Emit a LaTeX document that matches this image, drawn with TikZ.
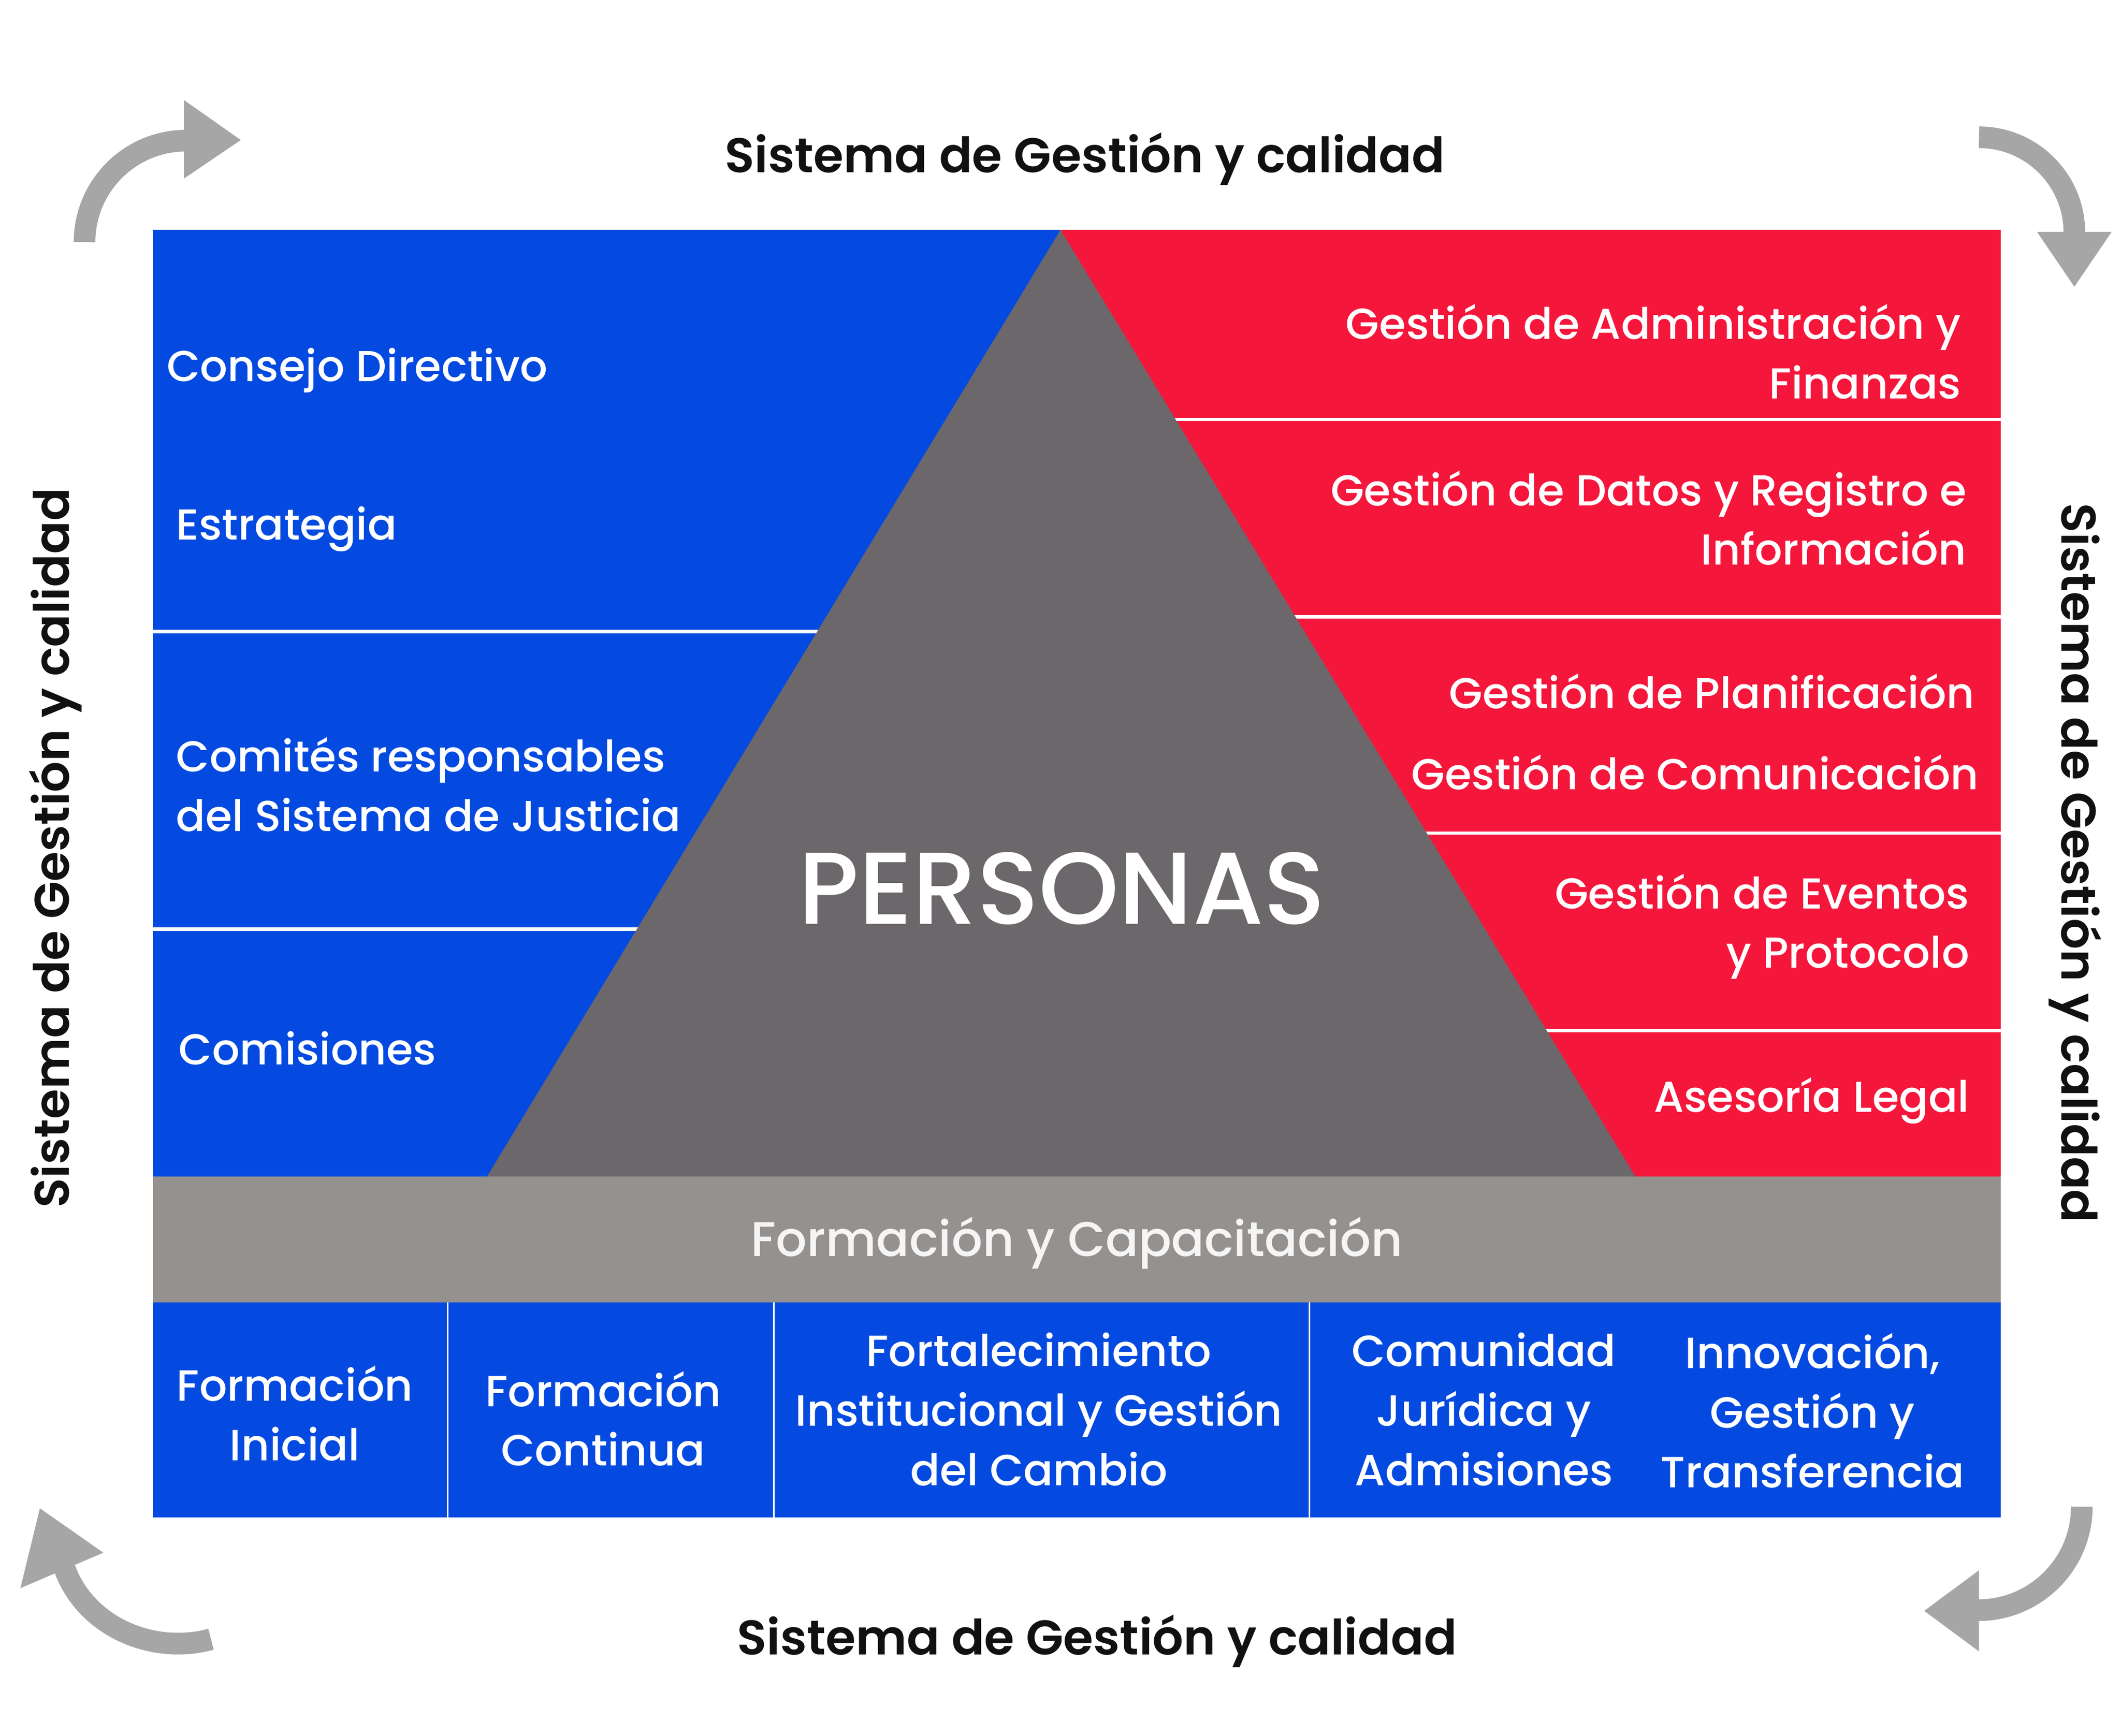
\documentclass[tikz,border=0pt]{standalone}
\usepackage{fontspec}
\setmainfont{Poppins}[UprightFont=* Medium, BoldFont=* SemiBold]
\definecolor{cblue}{HTML}{054AE0}
\definecolor{cred}{HTML}{F5163B}
\definecolor{ctri}{HTML}{6C676B}
\definecolor{cband}{HTML}{95918F}
\definecolor{carrow}{HTML}{A6A6A6}
\definecolor{ctitle}{HTML}{111111}
\tikzset{
  lab/.style={text=white, inner sep=0pt, font=\fontsize{32}{44}\selectfont},
  lableft/.style={lab, anchor=west, align=left},
  labright/.style={lab, anchor=east, align=right},
  labcell/.style={lab, anchor=center, align=center, font=\fontsize{32.3}{44}\selectfont},
  titlelab/.style={text=ctitle, inner sep=0pt, font=\bfseries\fontsize{36}{40}\selectfont},
  sepline/.style={white, line width=2.5pt},
  cellline/.style={white, line width=1pt},
  arrowline/.style={carrow, line width=16pt},
  arrowhead/.style={fill=carrow, draw=none},
}
\begin{document}
\begin{tikzpicture}[x=1pt,y=-1pt]
\useasboundingbox (0,0) rectangle (1568,1283.2);
\fill[white] (0,0) rectangle (1568,1283.2);
% main coloured areas
\fill[cblue] (113,170) rectangle (784,870);
\fill[cred] (784,170) rectangle (1479,870);
% separators
\draw[sepline] (113,467) -- (784,467);
\draw[sepline] (113,687) -- (784,687);
\draw[sepline] (784,310) -- (1479,310);
\draw[sepline] (784,456) -- (1479,456);
\draw[sepline] (784,616) -- (1479,616);
\draw[sepline] (784,762) -- (1479,762);
% triangle
\fill[ctri] (784,170) -- (1209,870) -- (360,870) -- cycle;
% band and bottom row
\fill[cband] (113,870) rectangle (1479,963);
\fill[cblue] (113,963) rectangle (1479,1122);
\draw[cellline] (331,963) -- (331,1122);
\draw[cellline] (572,963) -- (572,1122);
\draw[cellline] (968,963) -- (968,1122);

% left labels
\node[lableft] (consejo) at (123,274) {Consejo Directivo};
\node[lableft] (estrategia) at (130,391) {Estrategia};
\node[lableft] (comites) at (130,580) {Comités responsables\\del Sistema de Justicia};
\node[lableft] (comisiones) at (132,775) {Comisiones};
% right labels
\node[labright] (admin) at (1450,260) {Gestión de Administración y\\Finanzas};
\node[labright] (datos) at (1454,383) {Gestión de Datos y Registro e\\Información};
\node[labright] (planif) at (1460,511) {Gestión de Planificación};
\node[labright] (comunic) at (1463,571) {Gestión de Comunicación};
\node[labright] (eventos) at (1456,685) {Gestión de Eventos\\y Protocolo};
\node[labright] (asesoria) at (1456,814) {Asesoría Legal};
% centre
\node[text=white, inner sep=0pt, font=\fontsize{75.5}{78}\selectfont] (personas) at (785,657) {PERSONAS};
\node[text=white!96!black, inner sep=0pt, font=\fontsize{36}{40}\selectfont] (formacion) at (796,919) {Formación y Capacitación};
% bottom cells
\node[labcell] (inicial) at (218,1045) {Formación\\Inicial};
\node[labcell] (continua) at (446,1049) {Formación\\Continua};
\node[labcell] (fortal) at (768,1042) {Fortalecimiento\\Institucional y Gestión\\del Cambio};
\node[labcell] (comunidad) at (1097,1042) {Comunidad\\Jurídica y\\Admisiones};
\node[labcell] (innov) at (1340,1043) {Innovación,\\Gestión y\\Transferencia};
% titles
\node[titlelab] (ttop) at (802,117.5) {Sistema de Gestión y calidad};
\node[titlelab] (tbottom) at (811,1213.5) {Sistema de Gestión y calidad};
\node[titlelab, rotate=90] (tleft) at (41,627) {Sistema de Gestión y calidad};
\node[titlelab, rotate=-90] (tright) at (1534,638) {Sistema de Gestión y calidad};

% corner arrows
\draw[arrowline] (62.5,179) arc[start angle=180, end angle=270, radius=75];
\fill[arrowhead] (136,74) -- (178,103.5) -- (136,132) -- cycle;
\draw[arrowline] (1463,101.5) arc[start angle=270, end angle=360, radius=70.5];
\fill[arrowhead] (1506,171.5) -- (1561,171.5) -- (1533.5,212) -- cycle;
\draw[arrowline] (1539,1114) arc[start angle=0, end angle=90, radius=76.5];
\fill[arrowhead] (1463,1161) -- (1463,1221) -- (1422.5,1191) -- cycle;
\draw[arrowline] (156,1212) .. controls (112,1224) and (62,1202) .. (47.2,1158);
\fill[arrowhead] (76.4,1148) -- (15.1,1174.2) -- (29.5,1115.2) -- cycle;
\end{tikzpicture}
\end{document}
